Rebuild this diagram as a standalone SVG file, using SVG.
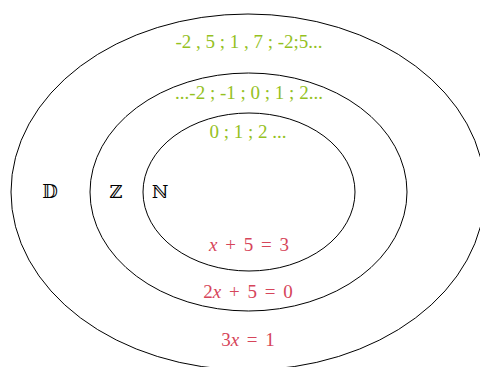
<svg xmlns="http://www.w3.org/2000/svg" width="480" height="367" viewBox="0 0 480 367">
<style>
.e{fill:none;stroke:#000;stroke-width:1}
.g{fill:#95c11f;font-family:'Liberation Serif',serif;font-size:19px;text-anchor:middle}
.r{fill:#d6455a;font-family:'Liberation Serif',serif;font-size:19px;text-anchor:middle;word-spacing:3px}
.s{fill:#000;font-family:'DejaVu Serif',serif;font-size:18px;text-anchor:middle}
.i{font-style:italic}
</style>
<rect width="480" height="367" fill="#fff"/>
<g id="D">
<ellipse class="e" cx="248" cy="192" rx="237" ry="178"/>
<text class="s" x="50" y="198">𝔻</text>
<text class="g" x="249" y="48">-2 , 5 ; 1 , 7 ; -2;5...</text>
<text class="r" x="248" y="346">3<tspan class="i">x</tspan> = 1</text>
</g>
<g id="Z">
<ellipse class="e" cx="248.5" cy="192" rx="158.5" ry="119"/>
<text class="s" x="116" y="198">ℤ</text>
<text class="g" x="249" y="99">...-2 ; -1 ; 0 ; 1 ; 2...</text>
<text class="r" x="248" y="298">2<tspan class="i">x</tspan> + 5 = 0</text>
</g>
<g id="N">
<ellipse class="e" cx="249" cy="192" rx="106" ry="79"/>
<text class="s" x="160" y="198">ℕ</text>
<text class="g" x="248" y="138">0 ; 1 ; 2 ...</text>
<text class="r" x="249" y="251"><tspan class="i">x</tspan> + 5 = 3</text>
</g>
</svg>
